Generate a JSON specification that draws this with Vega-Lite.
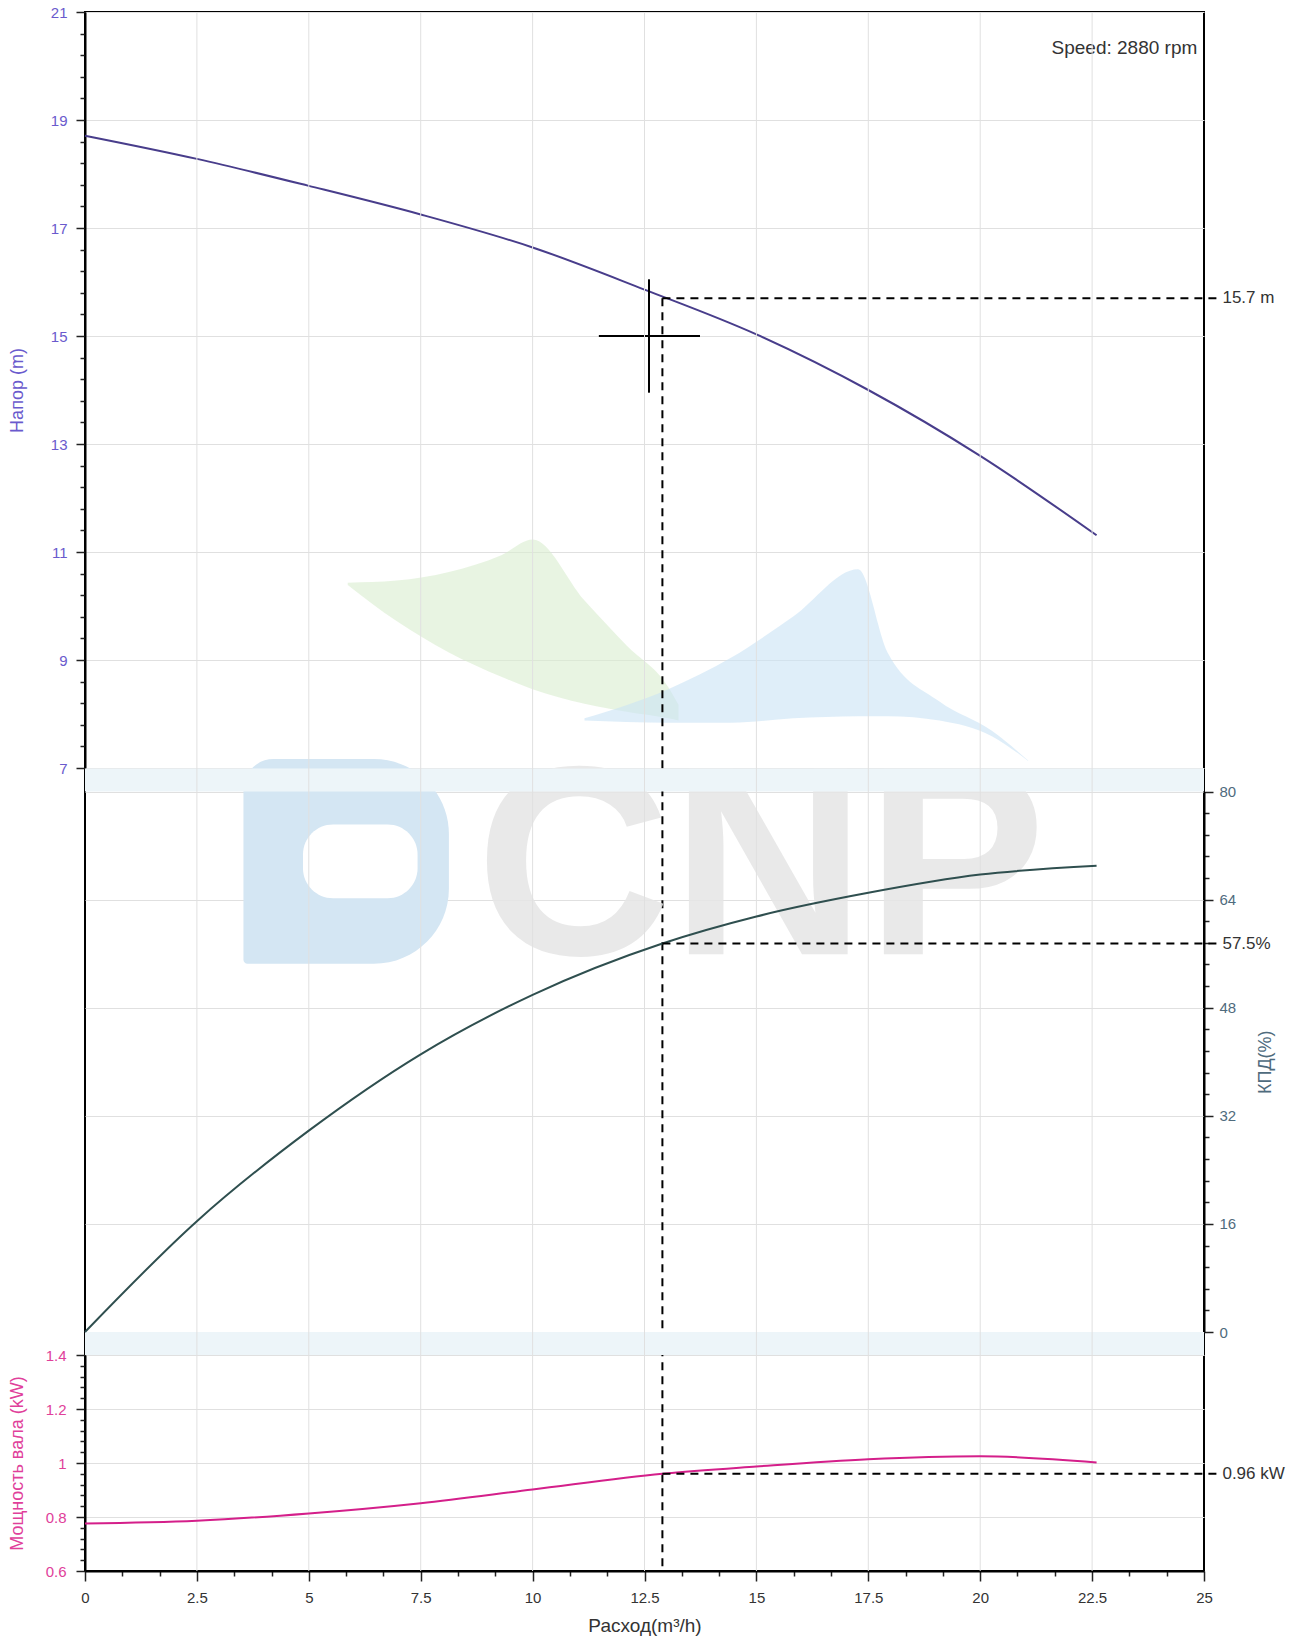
{
  "$schema": "https://vega.github.io/schema/vega-lite/v6.json",
  "width": 1119,
  "height": 1559,
  "autosize": "none",
  "padding": {"left": 85, "top": 12, "right": 96, "bottom": 66},
  "background": "white",
  "config": {
    "font": "Liberation Sans",
    "view": {"stroke": "#000", "strokeWidth": 2},
    "axis": {"titleFontWeight": "normal", "labelFont": "Liberation Sans", "titleFont": "Liberation Sans"}
  },
  "datasets": {
    "head": [
      {"q": 0, "h": 18.71}, {"q": 2.5, "h": 18.28}, {"q": 5, "h": 17.78}, {"q": 7.5, "h": 17.25},
      {"q": 10, "h": 16.64}, {"q": 12.5, "h": 15.86}, {"q": 15, "h": 15.03}, {"q": 17.5, "h": 14.0},
      {"q": 20, "h": 12.78}, {"q": 22.6, "h": 11.31}
    ],
    "eff": [
      {"q": 0, "e": 0}, {"q": 2.5, "e": 16.4}, {"q": 5, "e": 29.8}, {"q": 7.5, "e": 41.1},
      {"q": 10, "e": 49.9}, {"q": 12.9, "e": 57.5}, {"q": 15, "e": 61.5}, {"q": 17.5, "e": 65.0},
      {"q": 20, "e": 67.7}, {"q": 22.6, "e": 69.0}
    ],
    "power": [
      {"q": 0, "p": 0.776}, {"q": 2.5, "p": 0.786}, {"q": 5, "p": 0.813}, {"q": 7.5, "p": 0.851},
      {"q": 10, "p": 0.902}, {"q": 12.9, "p": 0.96}, {"q": 15, "p": 0.987}, {"q": 17.5, "p": 1.014},
      {"q": 20, "p": 1.025}, {"q": 22.6, "p": 1.002}
    ],
    "headMark": [{"q": 12.9, "q2": 25.3, "h": 15.7, "label": "15.7 m"}],
    "effMark": [{"q": 12.9, "q2": 25.3, "e": 57.5, "label": "57.5%"}],
    "powerMark": [{"q": 12.9, "q2": 25.3, "p": 0.96, "label": "0.96 kW"}],
    "cross": [
      {"q": 12.6, "q2": 12.6, "h": 13.95, "h2": 16.05},
      {"q": 11.48, "q2": 13.74, "h": 15, "h2": 15}
    ],
    "speed": [{"q": 24.85, "h": 20.34, "label": "Speed: 2880 rpm"}],
    "gaps": [
      {"q": 0, "q2": 25, "e": 80, "e2": 83.4},
      {"q": 0, "q2": 25, "e": -3.4, "e2": 0}
    ],
    "vgrid": [{"q": 2.5}, {"q": 5}, {"q": 7.5}, {"q": 10}, {"q": 12.5}, {"q": 15}, {"q": 17.5}, {"q": 20}, {"q": 22.5}],
    "leafGreen": [
      {"q": 5.87, "h": 10.43, "h2": 10.39}, {"q": 6.96, "h": 10.47, "h2": 9.72}, {"q": 8.13, "h": 10.63, "h2": 9.14},
      {"q": 9.3, "h": 10.94, "h2": 8.69}, {"q": 10.0, "h": 11.23, "h2": 8.46}, {"q": 11.16, "h": 10.1, "h2": 8.19},
      {"q": 12.1, "h": 9.27, "h2": 8.04}, {"q": 13.03, "h": 8.5, "h2": 7.92}, {"q": 13.26, "h": 8.17, "h2": 7.88}
    ],
    "leafBlue": [
      {"q": 11.16, "h": 7.92, "h2": 7.88}, {"q": 13.03, "h": 8.46, "h2": 7.84}, {"q": 14.43, "h": 9.04, "h2": 7.84},
      {"q": 15.83, "h": 9.81, "h2": 7.92}, {"q": 17.27, "h": 10.68, "h2": 7.96}, {"q": 17.93, "h": 9.14, "h2": 7.96},
      {"q": 19.09, "h": 8.23, "h2": 7.88}, {"q": 20.26, "h": 7.69, "h2": 7.59}, {"q": 21.07, "h": 7.14, "h2": 7.13}
    ],
    "logoOuter": [{"q": 3.54, "q2": 8.13, "e": 84.8, "e2": 54.5}],
    "logoInner": [{"q": 4.87, "q2": 7.43, "e": 75.1, "e2": 64.2}],
    "wm": [{"q": 15.1, "e": 67.9, "label": "CNP"}]
  },
  "encoding": {
    "x": {
      "field": "q", "type": "quantitative",
      "scale": {"domain": [0, 25], "nice": false, "zero": false},
      "axis": {
        "title": "Расход(m³/h)", "titleColor": "#333", "titleFontSize": 19, "titlePadding": 11,
        "values": [0, 0.833333, 1.666667, 2.5, 3.333333, 4.166667, 5, 5.833333, 6.666667, 7.5, 8.333333, 9.166667, 10, 10.833333, 11.666667, 12.5, 13.333333, 14.166667, 15, 15.833333, 16.666667, 17.5, 18.333333, 19.166667, 20, 20.833333, 21.666667, 22.5, 23.333333, 24.166667, 25],
        "labelExpr": "abs(datum.value / 2.5 - round(datum.value / 2.5)) < 0.01 ? format(datum.value, '.1~f') : ''",
        "labelOverlap": false, "labelFlush": false,
        "labelColor": "#333", "labelFontSize": 15, "labelPadding": 9,
        "tickColor": "#222", "tickWidth": 1.5,
        "tickSize": {"condition": {"test": "abs(datum.value / 2.5 - round(datum.value / 2.5)) < 0.01", "value": 10}, "value": 5},
        "grid": false,
        "domainColor": "#000", "domainWidth": 2
      }
    }
  },
  "layer": [
    {
      "layer": [
        {
          "data": {"name": "leafGreen"},
          "mark": {"type": "area", "color": "#d8edcf", "opacity": 0.6, "interpolate": "monotone"},
          "encoding": {"y": {"field": "h", "type": "quantitative"}, "y2": {"field": "h2"}}
        },
        {
          "data": {"name": "leafBlue"},
          "mark": {"type": "area", "color": "#c9e3f5", "opacity": 0.6, "interpolate": "monotone"},
          "encoding": {"y": {"field": "h", "type": "quantitative"}, "y2": {"field": "h2"}}
        },
        {
          "data": {"name": "head"},
          "mark": {"type": "line", "color": "#483d8b", "strokeWidth": 2, "interpolate": "monotone"},
          "encoding": {
            "y": {
              "field": "h", "type": "quantitative",
              "scale": {"domain": [7, 21], "range": [756, 0], "nice": false, "zero": false},
              "axis": {
                "orient": "left", "title": "Напор (m)", "titleColor": "#6a5acd", "titleFontSize": 18, "titleX": -59,
                "values": [7, 7.2, 7.4, 7.6, 7.8, 8, 8.2, 8.4, 8.6, 8.8, 9, 9.2, 9.4, 9.6, 9.8, 10, 10.2, 10.4, 10.6, 10.8, 11, 11.2, 11.4, 11.6, 11.8, 12, 12.2, 12.4, 12.6, 12.8, 13, 13.2, 13.4, 13.6, 13.8, 14, 14.2, 14.4, 14.6, 14.8, 15, 15.2, 15.4, 15.6, 15.8, 16, 16.2, 16.4, 16.6, 16.8, 17, 17.2, 17.4, 17.6, 17.8, 18, 18.2, 18.4, 18.6, 18.8, 19, 19.2, 19.4, 19.6, 19.8, 20, 20.2, 20.4, 20.6, 20.8, 21],
                "labelExpr": "abs(datum.value - round(datum.value)) < 0.01 && round(datum.value) % 2 == 1 ? format(round(datum.value), 'd') : ''",
                "labelOverlap": false, "labelColor": "#6a5acd", "labelFontSize": 15, "labelPadding": 9,
                "tickColor": "#222", "tickWidth": 1.5,
                "tickSize": {"condition": {"test": "abs(datum.value - round(datum.value)) < 0.01", "value": 9}, "value": 5},
                "grid": true, "gridColor": "#e0e0e0",
                "gridOpacity": {"condition": {"test": "abs(datum.value - round(datum.value)) < 0.01", "value": 1}, "value": 0},
                "domainColor": "#000", "domainWidth": 2
              }
            }
          }
        },
        {
          "data": {"name": "headMark"},
          "mark": {"type": "rule", "color": "#000", "strokeWidth": 2, "strokeDash": [8, 6]},
          "encoding": {"x2": {"field": "q2"}, "y": {"field": "h", "type": "quantitative"}}
        },
        {
          "data": {"name": "headMark"},
          "mark": {"type": "rule", "color": "#000", "strokeWidth": 2, "strokeDash": [8, 6]},
          "encoding": {"y": {"field": "h", "type": "quantitative"}, "y2": {"value": "height"}}
        },
        {
          "data": {"name": "headMark"},
          "mark": {"type": "text", "align": "left", "baseline": "middle", "dx": 5, "fontSize": 17, "color": "#333"},
          "encoding": {"x": {"field": "q2", "type": "quantitative"}, "y": {"field": "h", "type": "quantitative"}, "text": {"field": "label"}}
        },
        {
          "data": {"name": "cross"},
          "mark": {"type": "rule", "color": "#000", "strokeWidth": 2},
          "encoding": {"x2": {"field": "q2"}, "y": {"field": "h", "type": "quantitative"}, "y2": {"field": "h2"}}
        },
        {
          "data": {"name": "speed"},
          "mark": {"type": "text", "align": "right", "baseline": "middle", "fontSize": 19, "color": "#333"},
          "encoding": {"y": {"field": "h", "type": "quantitative"}, "text": {"field": "label"}}
        }
      ]
    },
    {
      "layer": [
        {
          "data": {"name": "logoOuter"},
          "mark": {"type": "rect", "color": "#d4e6f3", "cornerRadiusTopRight": 75, "cornerRadiusBottomRight": 75, "cornerRadiusBottomLeft": 4, "cornerRadiusTopLeft": 30},
          "encoding": {"x2": {"field": "q2"}, "y": {"field": "e", "type": "quantitative"}, "y2": {"field": "e2"}}
        },
        {
          "data": {"name": "logoInner"},
          "mark": {"type": "rect", "color": "#ffffff", "cornerRadius": 30},
          "encoding": {"x2": {"field": "q2"}, "y": {"field": "e", "type": "quantitative"}, "y2": {"field": "e2"}}
        },
        {
          "data": {"name": "wm"},
          "mark": {"type": "text", "align": "center", "baseline": "middle", "fontSize": 270, "fontWeight": "bold", "font": "Liberation Sans", "color": "#e6e6e6", "opacity": 0.85},
          "encoding": {"y": {"field": "e", "type": "quantitative"}, "text": {"field": "label"}}
        },
        {
          "data": {"name": "gaps"},
          "mark": {"type": "rect", "color": "#edf5f9"},
          "encoding": {"x2": {"field": "q2"}, "y": {"field": "e", "type": "quantitative"}, "y2": {"field": "e2"}}
        },
        {
          "data": {"name": "vgrid"},
          "mark": {"type": "rule", "color": "#e0e0e0", "strokeWidth": 1},
          "encoding": {}
        },
        {
          "data": {"name": "eff"},
          "mark": {"type": "line", "color": "#2f4f4f", "strokeWidth": 2, "interpolate": "monotone"},
          "encoding": {
            "y": {
              "field": "e", "type": "quantitative",
              "scale": {"domain": [0, 80], "range": [1320, 779.5], "nice": false, "zero": false},
              "axis": {
                "orient": "right", "title": "КПД(%)", "titleColor": "#4f6b7d", "titleFontSize": 18, "titleAngle": 270, "titleX": 70,
                "values": [0, 1.6, 3.2, 4.8, 6.4, 8, 9.6, 11.2, 12.8, 14.4, 16, 17.6, 19.2, 20.8, 22.4, 24, 25.6, 27.2, 28.8, 30.4, 32, 33.6, 35.2, 36.8, 38.4, 40, 41.6, 43.2, 44.8, 46.4, 48, 49.6, 51.2, 52.8, 54.4, 56, 57.6, 59.2, 60.8, 62.4, 64, 65.6, 67.2, 68.8, 70.4, 72, 73.6, 75.2, 76.8, 78.4, 80],
                "labelExpr": "abs(datum.value / 16 - round(datum.value / 16)) < 0.01 ? format(round(datum.value), 'd') : ''",
                "labelOverlap": false, "labelColor": "#4f6b7d", "labelFontSize": 15, "labelPadding": 6,
                "tickColor": "#222", "tickWidth": 1.5,
                "tickSize": {"condition": {"test": "abs(datum.value / 8 - round(datum.value / 8)) < 0.01", "value": 9}, "value": 5},
                "grid": true, "gridColor": "#e0e0e0",
                "gridOpacity": {"condition": {"test": "abs(datum.value / 8 - round(datum.value / 8)) < 0.01", "value": 1}, "value": 0},
                "domainColor": "#000", "domainWidth": 2
              }
            }
          }
        },
        {
          "data": {"name": "effMark"},
          "mark": {"type": "rule", "color": "#000", "strokeWidth": 2, "strokeDash": [8, 6]},
          "encoding": {"x2": {"field": "q2"}, "y": {"field": "e", "type": "quantitative"}}
        },
        {
          "data": {"name": "effMark"},
          "mark": {"type": "text", "align": "left", "baseline": "middle", "dx": 5, "fontSize": 17, "color": "#333"},
          "encoding": {"x": {"field": "q2", "type": "quantitative"}, "y": {"field": "e", "type": "quantitative"}, "text": {"field": "label"}}
        }
      ]
    },
    {
      "layer": [
        {
          "data": {"name": "power"},
          "mark": {"type": "line", "color": "#d41f8a", "strokeWidth": 2, "interpolate": "monotone"},
          "encoding": {
            "y": {
              "field": "p", "type": "quantitative",
              "scale": {"domain": [0.6, 1.4], "range": [1559, 1343], "nice": false, "zero": false},
              "axis": {
                "orient": "left", "title": "Мощность вала (kW)", "titleColor": "#e0409a", "titleFontSize": 18, "titleX": -59,
                "values": [0.6, 0.64, 0.68, 0.72, 0.76, 0.8, 0.84, 0.88, 0.92, 0.96, 1, 1.04, 1.08, 1.12, 1.16, 1.2, 1.24, 1.28, 1.32, 1.36, 1.4],
                "labelExpr": "abs(datum.value / 0.2 - round(datum.value / 0.2)) < 0.01 ? format(datum.value, '.1~f') : ''",
                "labelOverlap": false, "labelColor": "#e0409a", "labelFontSize": 15, "labelPadding": 10,
                "tickColor": "#222", "tickWidth": 1.5,
                "tickSize": {"condition": {"test": "abs(datum.value / 0.2 - round(datum.value / 0.2)) < 0.01", "value": 9}, "value": 5},
                "grid": true, "gridColor": "#e0e0e0",
                "gridOpacity": {"condition": {"test": "abs(datum.value / 0.2 - round(datum.value / 0.2)) < 0.01", "value": 1}, "value": 0},
                "domainColor": "#000", "domainWidth": 2
              }
            }
          }
        },
        {
          "data": {"name": "powerMark"},
          "mark": {"type": "rule", "color": "#000", "strokeWidth": 2, "strokeDash": [8, 6]},
          "encoding": {"x2": {"field": "q2"}, "y": {"field": "p", "type": "quantitative"}}
        },
        {
          "data": {"name": "powerMark"},
          "mark": {"type": "text", "align": "left", "baseline": "middle", "dx": 5, "fontSize": 17, "color": "#333"},
          "encoding": {"x": {"field": "q2", "type": "quantitative"}, "y": {"field": "p", "type": "quantitative"}, "text": {"field": "label"}}
        }
      ]
    }
  ],
  "resolve": {"scale": {"y": "independent"}, "axis": {"y": "independent"}}
}
